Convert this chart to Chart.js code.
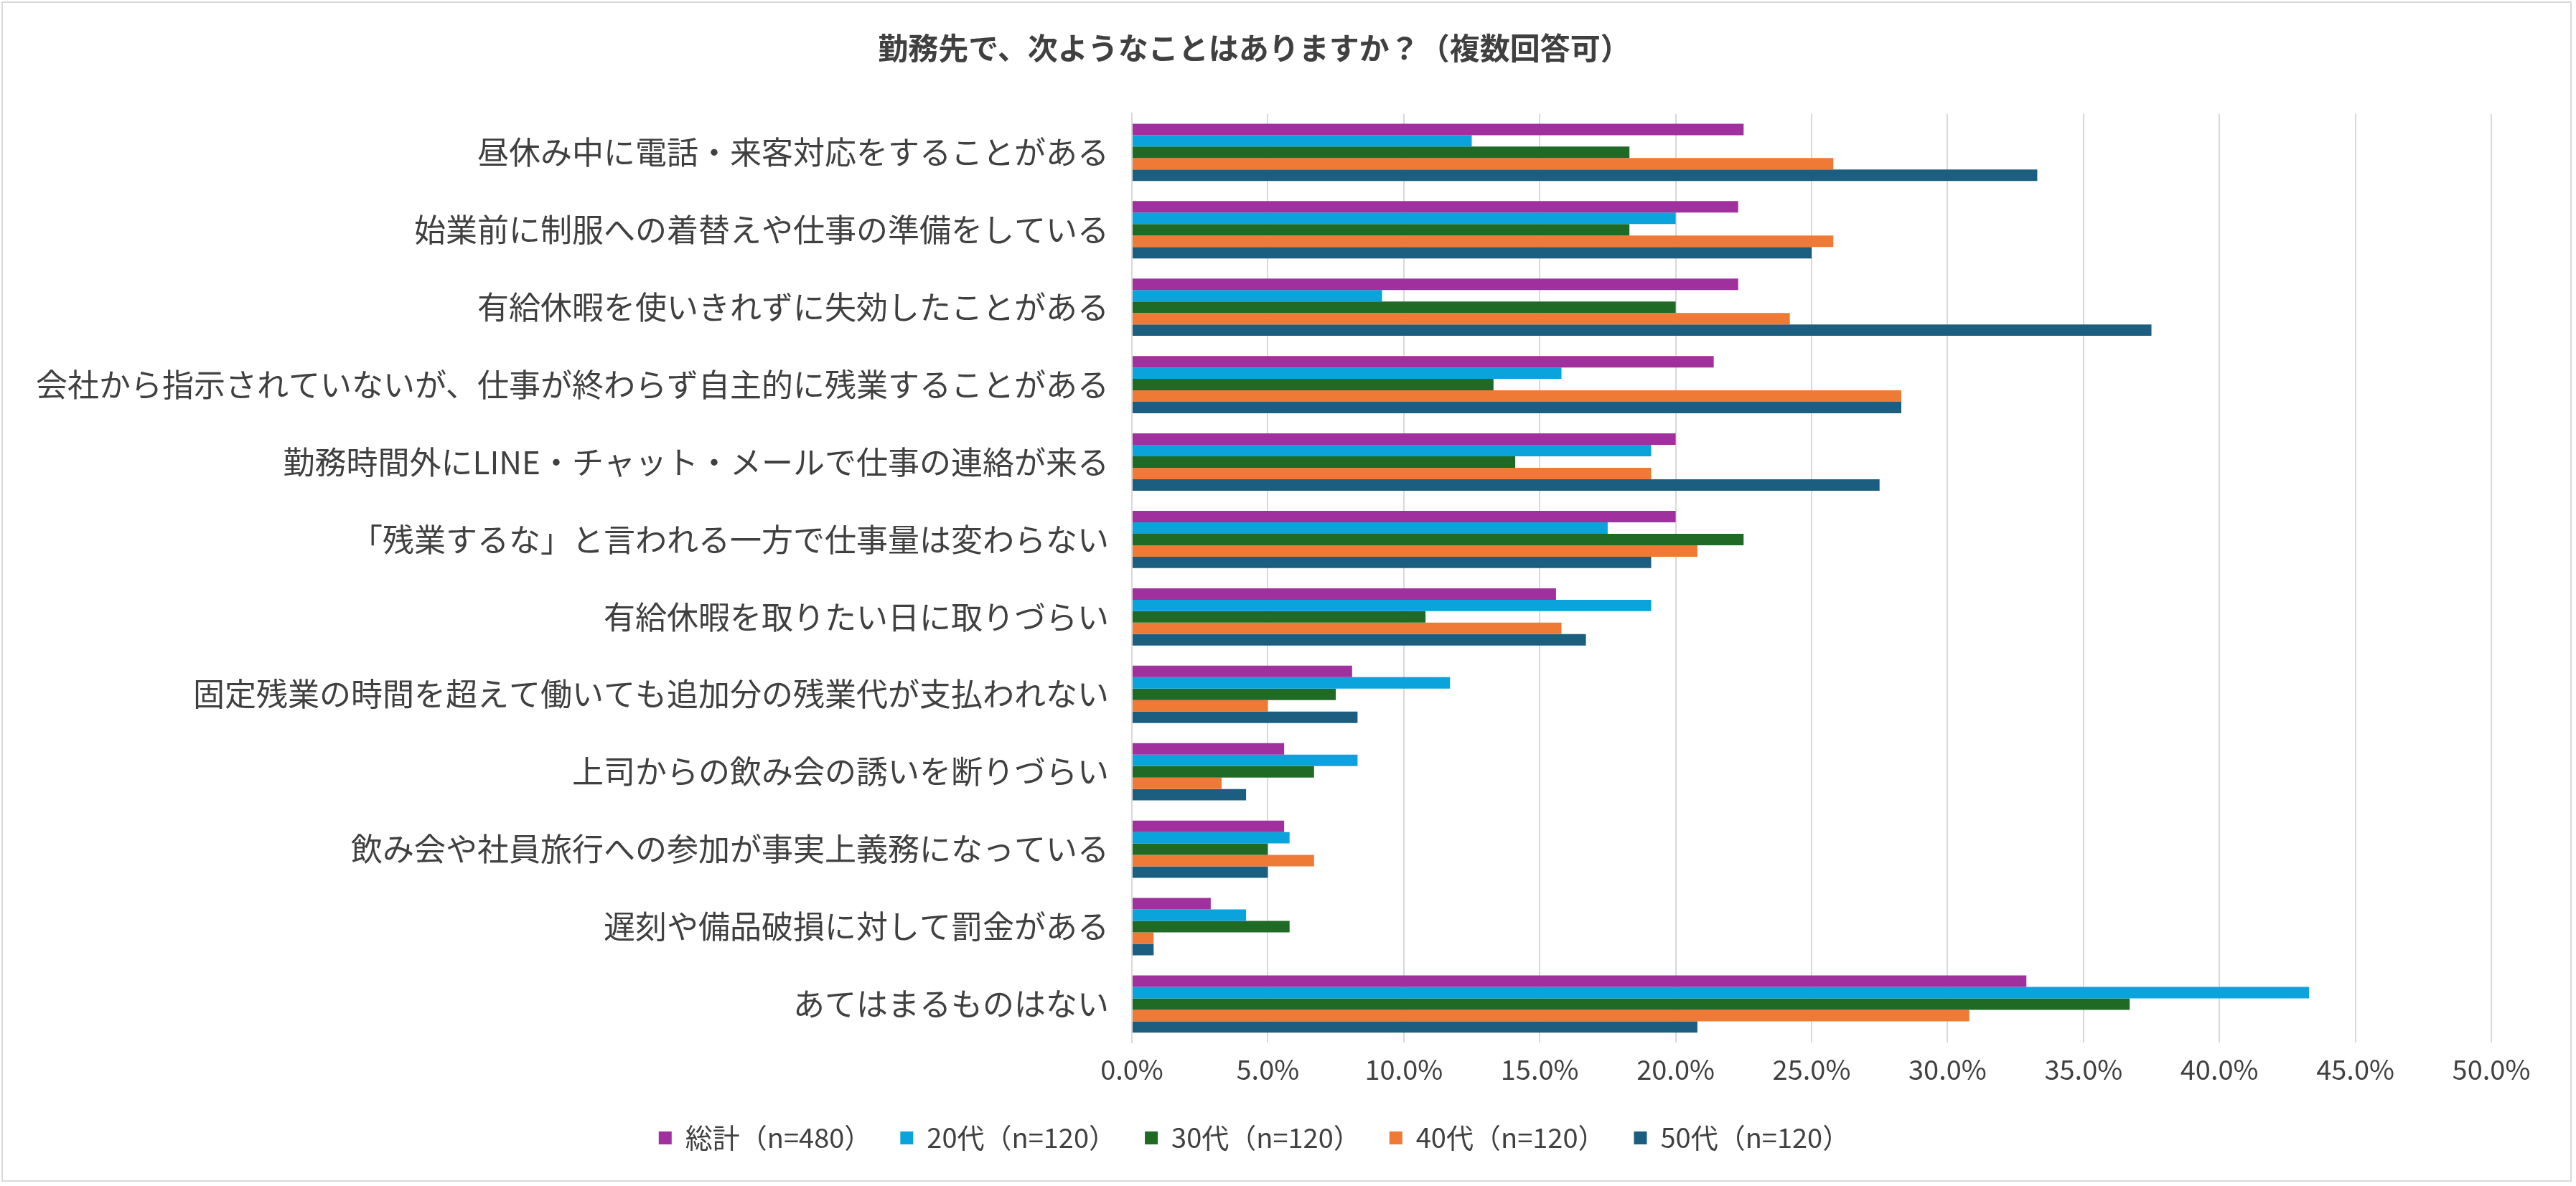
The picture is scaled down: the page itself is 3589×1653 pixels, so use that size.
<!DOCTYPE html>
<html><head><meta charset="utf-8">
<script src="https://cdn.jsdelivr.net/npm/chart.js@4"></script>
<style>
html,body{margin:0;padding:0;background:#fff}
#wrap{position:absolute;left:2px;top:2px;width:3581px;height:1645px;border:2px solid #d9d9d9;box-sizing:border-box}
</style></head>
<body><div id="wrap"><canvas id="c"></canvas></div>
<script>
const categories = ["昼休み中に電話・来客対応をすることがある","始業前に制服への着替えや仕事の準備をしている","有給休暇を使いきれずに失効したことがある","会社から指示されていないが、仕事が終わらず自主的に残業することがある","勤務時間外にLINE・チャット・メールで仕事の連絡が来る","「残業するな」と言われる一方で仕事量は変わらない","有給休暇を取りたい日に取りづらい","固定残業の時間を超えて働いても追加分の残業代が支払われない","上司からの飲み会の誘いを断りづらい","飲み会や社員旅行への参加が事実上義務になっている","遅刻や備品破損に対して罰金がある","あてはまるものはない"];
const total = [22.5,22.3,22.3,21.4,20.0,20.0,15.6,8.1,5.6,5.6,2.9,32.9];
const s20 = [12.5,20.0,9.2,15.8,19.1,17.5,19.1,11.7,8.3,5.8,4.2,43.3];
const s30 = [18.3,18.3,20.0,13.3,14.1,22.5,10.8,7.5,6.7,5.0,5.8,36.7];
const s40 = [25.8,25.8,24.2,28.3,19.1,20.8,15.8,5.0,3.3,6.7,0.8,30.8];
const s50 = [33.3,25.0,37.5,28.3,27.5,19.1,16.7,8.3,4.2,5.0,0.8,20.8];
const seriesNames = ["総計（n=480）","20代（n=120）","30代（n=120）","40代（n=120）","50代（n=120）"];
const colors = ["#A0309E","#0AA3DC","#1F6B25","#EE7A35","#1C5E80"];
const font = "'Noto Sans CJK JP','Noto Sans',sans-serif";
const data = [total,s20,s30,s40,s50];
new Chart(document.getElementById("c"), {
  type: "bar",
  data: {
    labels: categories,
    datasets: data.map((d,i)=>({label:seriesNames[i],data:d,backgroundColor:colors[i],categoryPercentage:0.74,barPercentage:1}))
  },
  options: {
    indexAxis: "y",
    responsive: true,
    maintainAspectRatio: false,
    animation: false,
    layout: {padding:{left:20,right:110,top:24,bottom:30}},
    plugins: {
      title: {display:true,text:"勤務先で、次ようなことはありますか？（複数回答可）",color:"#404040",font:{family:font,size:42,weight:"bold"},padding:{top:14,bottom:66}},
      legend: {position:"bottom",labels:{color:"#404040",font:{family:font,size:38},boxWidth:18,boxHeight:18,padding:40}},
      tooltip: {enabled:false}
    },
    scales: {
      x: {min:0,max:50,ticks:{stepSize:5,color:"#404040",font:{family:font,size:38},callback:v=>v.toFixed(1)+"%",padding:14},
          grid:{color:"#d9d9d9",lineWidth:2,drawTicks:false},border:{display:false}},
      y: {ticks:{color:"#404040",font:{family:font,size:44},padding:24},grid:{display:false},border:{color:"#d9d9d9",width:2},
          afterFit: s => { s.width = 1553; }}
    }
  }
});
</script></body></html>
